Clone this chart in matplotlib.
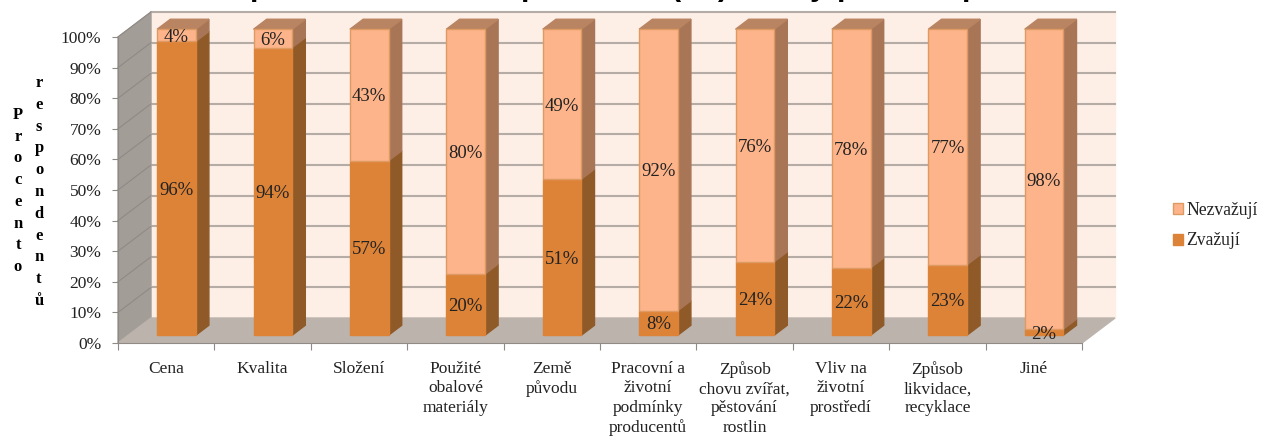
import matplotlib
matplotlib.use('Agg')
import matplotlib.pyplot as plt
from matplotlib.patches import Patch

plt.rcParams['font.family'] = ['Liberation Serif', 'DejaVu Serif']

kategorie = ['Cena', 'Kvalita', 'Složení', 'Použité\nobalové\nmateriály', 'Země\npůvodu',
             'Pracovní a\nživotní\npodmínky\nproducentů', 'Způsob\nchovu zvířat,\npěstování\nrostlin',
             'Vliv na\nživotní\nprostředí', 'Způsob\nlikvidace,\nrecyklace', 'Jiné']
zvazuji = [96, 94, 57, 20, 51, 8, 24, 22, 23, 2]
nezvazuji = [4, 6, 43, 80, 49, 92, 76, 78, 77, 98]
y_ticks = [0, 10, 20, 30, 40, 50, 60, 70, 80, 90, 100]

# zbytky nadpisu, ktery je v originale oriznuty
nadpis_znaky = ['p', ',', 'p', '(', ')', 'y', 'p', 'p']
nadpis_x = [259, 378, 530, 676, 723, 818, 846, 971]

W, H = 1266, 436
fig = plt.figure(figsize=(W / 100, H / 100), dpi=100)
ax = fig.add_axes([118 / W, 1 - 343 / H, 964 / W, 306 / H])
ax.set_xlim(-0.5, 9.5)
ax.set_ylim(0, 100)
ax.set_facecolor('none')

# posun hloubky pro pseudo 3D
DX = 33 / 96.4
DY = 25 / 3.06


def proj(x, v, d):
    return x + d * DX, v + d * DY


def plocha(body, color, edge=None, z=1):
    xs = [proj(*b)[0] for b in body]
    ys = [proj(*b)[1] for b in body]
    ax.fill(xs, ys, facecolor=color, edgecolor=edge if edge else color, lw=1, clip_on=False, zorder=z)


# steny a podlaha
plocha([(-0.5, 0, 1), (9.5, 0, 1), (9.5, 100, 1), (-0.5, 100, 1)], '#fdeee6')
plocha([(-0.5, 0, 0), (-0.5, 0, 1), (-0.5, 100, 1), (-0.5, 100, 0)], '#a39d98')
plocha([(-0.5, 0, 0), (9.5, 0, 0), (9.5, 0, 1), (-0.5, 0, 1)], '#bcb3ad')

for t in y_ticks[1:]:
    x0, y0 = proj(-0.5, t, 1)
    x1, y1 = proj(9.5, t, 1)
    ax.plot([x0, x1], [y0, y1], color='#b5aca6', lw=1.5, clip_on=False, zorder=2)
    ax.plot([-0.5, x0], [t, y0], color='#8f8a85', lw=0.8, clip_on=False, zorder=2)

# sloupce
d0, d1 = 0.31, 0.71
sirka = 0.2
for i in range(len(kategorie)):
    a, b = i - sirka, i + sirka
    z = zvazuji[i]
    plocha([(b, 0, d0), (b, 0, d1), (b, z, d1), (b, z, d0)], '#8f5a28', z=3)
    plocha([(a, 0, d0), (b, 0, d0), (b, z, d0), (a, z, d0)], '#dd8338', z=4)
    plocha([(b, z, d0), (b, z, d1), (b, 100, d1), (b, 100, d0)], '#a87657', z=3)
    plocha([(a, z, d0), (b, z, d0), (b, 100, d0), (a, 100, d0)], '#fdb48a', edge='#dd9a62', z=4)
    plocha([(a, 100, d0), (b, 100, d0), (b, 100, d1), (a, 100, d1)], '#b98461', z=3)
    px, py = proj(i, z / 2 - 0.6, d0)
    ax.text(px, py, f'{z}%', ha='center', va='center', fontsize=13.5, color='#222222', zorder=6)
    px, py = proj(i, z + nezvazuji[i] / 2 - 0.6, d0)
    ax.text(px, py, f'{nezvazuji[i]}%', ha='center', va='center', fontsize=13.5, color='#222222', zorder=6)

# osy
for s in ['top', 'right']:
    ax.spines[s].set_visible(False)
for s in ['left', 'bottom']:
    ax.spines[s].set_color('#8f8a85')
    ax.spines[s].set_zorder(5)
ax.set_yticks(y_ticks)
ax.set_yticklabels([f'{t}%' for t in y_ticks], fontsize=12.5, color='#222222')
ax.tick_params(axis='y', length=4, color='#8f8a85', pad=8)
ax.set_xticks([i - 0.5 for i in range(len(kategorie) + 1)])
ax.set_xticklabels([])
ax.tick_params(axis='x', length=5, color='#8f8a85')
ax.set_xticks(range(len(kategorie)), minor=True)
ax.set_xticklabels(kategorie, minor=True, fontsize=12.5, color='#222222', linespacing=1.27, va='top')
ax.tick_params(axis='x', which='minor', length=0, pad=13)

# popisek osy y, pismena pod sebou
fig.text(18 / W, 1 - 191 / H, '\n'.join('Procento'), ha='center', va='center', fontsize=12,
         fontweight='bold', linespacing=1.48)
fig.text(39 / W, 1 - 192 / H, '\n'.join('respondentů'), ha='center', va='center', fontsize=12,
         fontweight='bold', linespacing=1.48)

for znak, x in zip(nadpis_znaky, nadpis_x):
    fig.text(x / W, 1 + 5 / H, znak, ha='center', va='baseline', fontsize=22, fontweight='bold',
             family='Liberation Sans', color='black')

handles = [Patch(facecolor='#fdb48a', edgecolor='#dd9a62', label='Nezvažují'),
           Patch(facecolor='#dd8338', edgecolor='#dd8338', label='Zvažují')]
fig.legend(handles=handles, loc='center left', bbox_to_anchor=(1173 / W, 1 - 225.5 / H), frameon=False,
           fontsize=12.7, handlelength=0.57, handleheight=0.57, handletextpad=0.17, labelspacing=0.78,
           labelcolor='#222222', borderpad=0, borderaxespad=0)

fig.savefig('out.png', dpi=100)
